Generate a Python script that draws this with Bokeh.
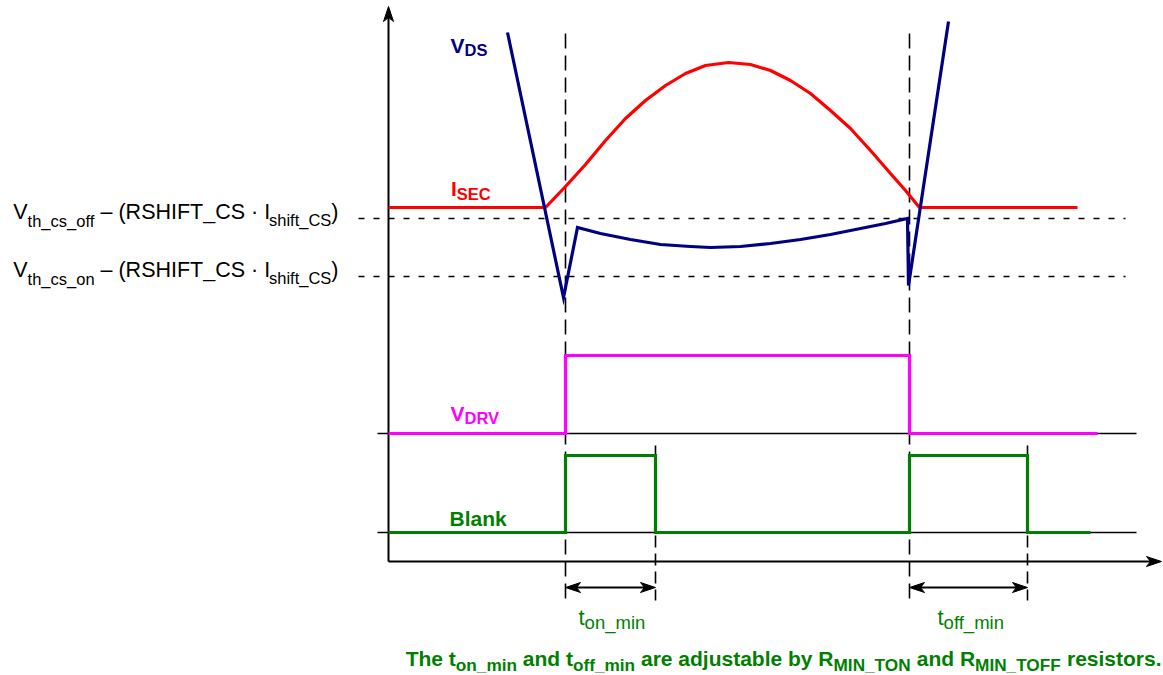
from bokeh.plotting import figure
from bokeh.models import Range1d
from bokeh.core.properties import value
from bokeh.embed import file_html
from bokeh.resources import INLINE

# ---------------- data (in picture coordinates) ----------------
# switching instants
T_ON = 565          # VDRV rising edge / blank start
T_ON_END = 655      # end of t_on_min blanking
T_OFF = 909         # VDRV falling edge / blank start
T_OFF_END = 1027    # end of t_off_min blanking

# threshold levels (dashed lines)
THRESH_LABELS = ["th_cs_off", "th_cs_on"]
THRESH_Y = [218, 276]

# secondary current I_SEC
ISEC_X = [388, 545, 565, 585, 605, 625, 645, 665, 685, 705, 728, 750, 770, 790, 810, 830, 850, 870, 890, 905, 919, 1077]
ISEC_Y = [207, 207, 186, 164, 140, 118, 100, 85, 73, 65, 62, 64, 70, 80, 93, 110, 128, 150, 173, 190, 207, 207]

# drain-source voltage V_DS
VDS_X = [507, 563, 577, 600, 630, 660, 690, 710, 740, 770, 800, 830, 860, 885, 907, 908, 948]
VDS_Y = [32, 297, 227, 233, 239, 244, 246, 247, 246, 243, 239, 234, 228, 223, 218, 285, 21]

# driver voltage V_DRV
VDRV_X = [388, T_ON, T_ON, T_OFF, T_OFF, 1097]
VDRV_Y = [433, 433, 355, 355, 433, 433]

# blanking signal
BLANK_X = [388, T_ON, T_ON, T_ON_END, T_ON_END, T_OFF, T_OFF, T_OFF_END, T_OFF_END, 1090]
BLANK_Y = [532, 532, 455, 455, 532, 532, 455, 455, 532, 532]

# baselines of the logic traces
BASELINES_Y = [433, 532]

NAVY = "#000080"
RED = "#ff0000"
MAGENTA = "#ff00ff"
GREEN = "#008000"
BLACK = "#000000"
FONT = "Liberation Sans"
SP = "\u00a0"   # non-breaking space (SVG collapses ordinary leading/trailing spaces)

# ---------------- font metrics (Arial / Liberation Sans, 1/1000 em) ----------------
_L = "abcdefghijklmnopqrstuvwxyz"
_U = "ABCDEFGHIJKLMNOPQRSTUVWXYZ"
_REG_L = [556, 556, 500, 556, 556, 278, 556, 556, 222, 222, 500, 222, 833, 556, 556, 556, 556, 333, 500, 278, 556, 500, 722, 500, 500, 500]
_REG_U = [667, 667, 722, 722, 667, 611, 778, 722, 278, 500, 667, 556, 833, 722, 778, 667, 778, 722, 667, 611, 722, 667, 944, 667, 667, 611]
_BLD_L = [556, 611, 556, 611, 556, 333, 611, 611, 278, 278, 556, 278, 889, 611, 611, 611, 611, 389, 556, 333, 611, 556, 778, 556, 556, 500]
_BLD_U = [722, 722, 722, 722, 667, 611, 778, 722, 278, 556, 722, 611, 833, 722, 778, 667, 778, 722, 667, 611, 722, 667, 944, 667, 667, 611]
_PUNCT = {" ": 278, SP: 278, ".": 278, "_": 556, "(": 333, ")": 333, "\u2013": 556, "\u00b7": 278}
REG = dict(zip(_L, _REG_L)); REG.update(zip(_U, _REG_U)); REG.update(_PUNCT)
BLD = dict(zip(_L, _BLD_L)); BLD.update(zip(_U, _BLD_U)); BLD.update(_PUNCT)
BASELINE_FIX = 0.32   # em: the rendered alphabetic baseline sits this much lower


def text_width(s, size, bold):
    table = BLD if bold else REG
    return sum(table.get(c, 556) for c in s) * size / 1000.0


W, H = 1163, 675
p = figure(width=W, height=H, x_range=Range1d(0, W), y_range=Range1d(H, 0),
           output_backend="svg", toolbar_location=None, min_border=0,
           x_axis_location=None, y_axis_location=None)
p.grid.visible = False
p.outline_line_color = None
p.background_fill_color = "white"
p.border_fill_color = "white"


def rich(pieces, x, y, color, bold=False, align="left"):
    """pieces: list of (text, font size px, baseline drop px)"""
    total = sum(text_width(s, sz, bold) for s, sz, _ in pieces)
    cx = x - total if align == "right" else x
    for s, sz, dy in pieces:
        s2 = s.replace(" ", SP)
        p.text(x=[cx], y=[y + dy - BASELINE_FIX * sz], text=[s2], text_font=value(FONT),
               text_font_size=f"{sz}px", text_font_style="bold" if bold else "normal",
               text_color=color, text_align="left", text_baseline="alphabetic")
        cx += text_width(s, sz, bold)


def head(tx, ty, dx, dy, length=15, half=5, notch=4):
    nx, ny = -dy, dx
    xs = [tx, tx - length * dx + half * nx, tx - (length - notch) * dx, tx - length * dx - half * nx]
    ys = [ty, ty - length * dy + half * ny, ty - (length - notch) * dy, ty - length * dy - half * ny]
    return xs, ys


# ---------------- axes ----------------
AX_X0, AX_Y0 = 388, 561
p.line([AX_X0, AX_X0], [AX_Y0, 12], line_color=BLACK, line_width=2)
p.line([AX_X0, 1150], [AX_Y0, AX_Y0], line_color=BLACK, line_width=2)
hx1, hy1 = head(AX_X0, 6, 0, -1)
hx2, hy2 = head(1161, AX_Y0, 1, 0)
p.patches([hx1, hx2], [hy1, hy2], fill_color=BLACK, line_color=BLACK, line_width=1)

# baselines of logic traces
for yb in BASELINES_Y:
    p.line([377, 1136], [yb, yb], line_color=BLACK, line_width=1.6)

# threshold dashed lines
for yt in THRESH_Y:
    p.line([358, 1125], [yt, yt], line_color=BLACK, line_width=1.6, line_dash="6 9")

# vertical dashed markers
p.segment(x0=[T_ON, T_OFF], y0=[33, 33], x1=[T_ON, T_OFF], y1=[600, 600],
          line_color=BLACK, line_width=1.6, line_dash="15 7")
p.segment(x0=[T_ON_END, T_OFF_END], y0=[445, 445], x1=[T_ON_END, T_OFF_END], y1=[600, 600],
          line_color=BLACK, line_width=1.6, line_dash="12 6")

# ---------------- signals ----------------
p.line(ISEC_X, ISEC_Y, line_color=RED, line_width=3.2, line_join="round")
p.line(VDS_X, VDS_Y, line_color=NAVY, line_width=3.2, line_join="miter")
p.line(VDRV_X, VDRV_Y, line_color=MAGENTA, line_width=3.2, line_join="miter")
p.line(BLANK_X, BLANK_Y, line_color=GREEN, line_width=3.2, line_join="miter")

# ---------------- t_on_min / t_off_min arrows ----------------
ARROW_Y = 587
heads_x, heads_y = [], []
for a, b in [(T_ON, T_ON_END), (T_OFF, T_OFF_END)]:
    p.line([a + 8, b - 8], [ARROW_Y, ARROW_Y], line_color=BLACK, line_width=2.2)
    for xs, ys in (head(a, ARROW_Y, -1, 0), head(b, ARROW_Y, 1, 0)):
        heads_x.append(xs)
        heads_y.append(ys)
p.patches(heads_x, heads_y, fill_color=BLACK, line_color=BLACK, line_width=1)

# ---------------- labels ----------------
for sub, yt in zip(THRESH_LABELS, THRESH_Y):
    rich([("V", 21.5, 0), (sub, 16.5, 8), (" \u2013 (RSHIFT_CS \u00b7 I", 21.5, 0),
          ("shift_CS", 16.5, 7), (")", 21.5, 0)], 338, yt, BLACK, align="right")

rich([("V", 21, 0), ("DS", 16.5, 3)], 450, 52, NAVY, bold=True)
rich([("I", 21, 0), ("SEC", 16.5, 4)], 450.5, 195, RED, bold=True)
rich([("V", 21, 0), ("DRV", 16.5, 3)], 450, 420, MAGENTA, bold=True)
rich([("Blank", 21, 0)], 449, 525, GREEN, bold=True)

rich([("t", 22, 0), ("on_min", 18.5, 4)], 578, 624, GREEN)
rich([("t", 22, 0), ("off_min", 18.5, 4)], 937, 624, GREEN)

rich([("The t", 21, 0), ("on_min", 17.2, 5), (" and t", 21, 0), ("off_min", 17.2, 5),
      (" are adjustable by R", 21, 0), ("MIN_TON", 17.2, 5), (" and R", 21, 0),
      ("MIN_TOFF", 17.2, 5), (" resistors.", 21, 0)], 1161, 665, GREEN, bold=True, align="right")

open("out.html", "w").write(file_html(p, INLINE))
